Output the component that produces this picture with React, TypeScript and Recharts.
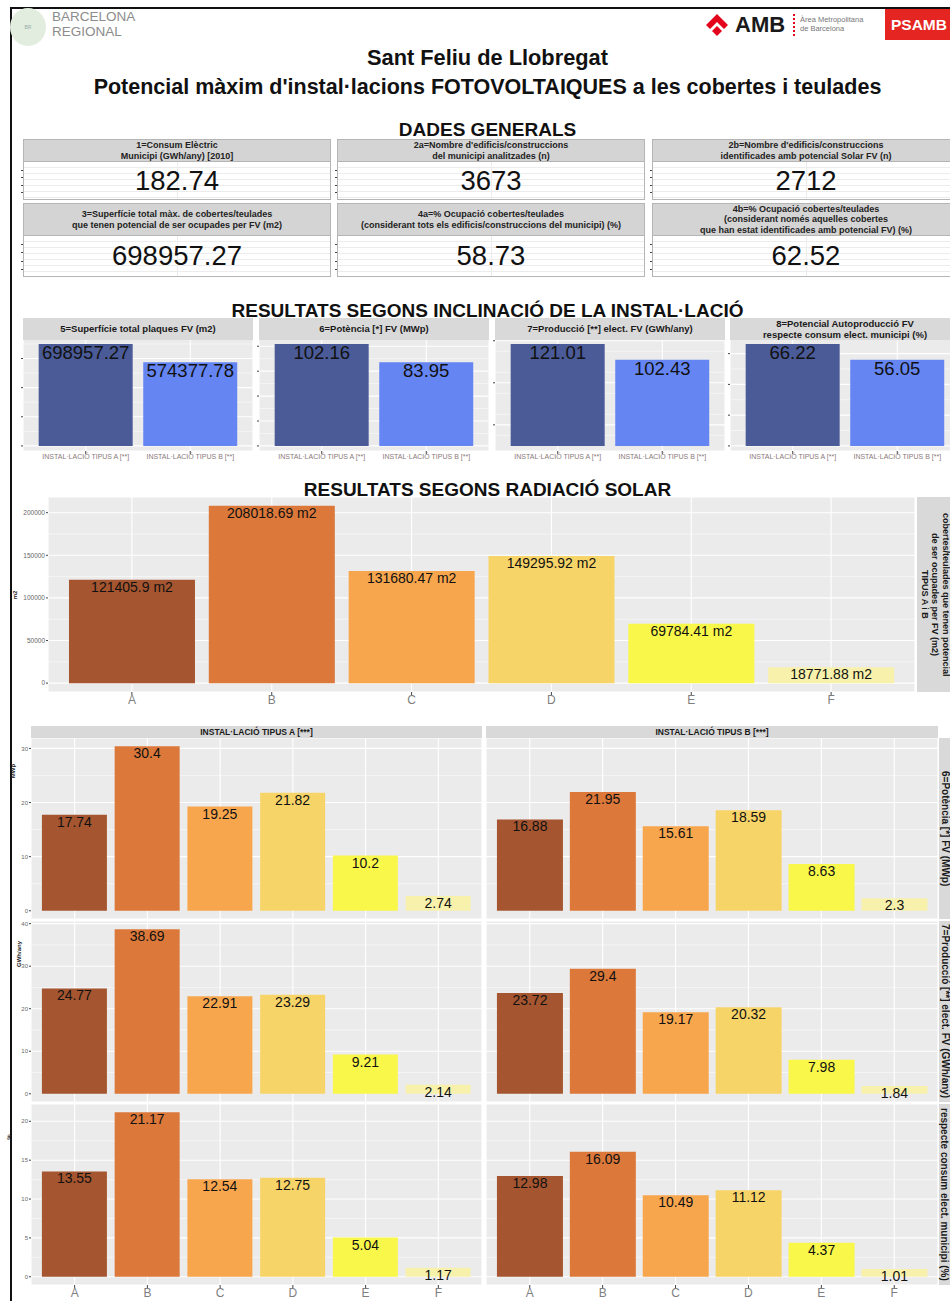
import React from 'react'
import { BarChart, Bar, XAxis, YAxis, CartesianGrid, Cell, LabelList, ReferenceLine } from 'recharts'

const FONT = '"Liberation Sans", Arial, Helvetica, sans-serif'

// DADES GENERALS
const generalTitles = [
  ['1=Consum Elèctric', 'Municipi (GWh/any) [2010]'],
  ["2a=Nombre d'edificis/construccions", 'del municipi analitzades (n)'],
  ["2b=Nombre d'edificis/construccions", 'identificades amb potencial Solar FV (n)'],
  ['3=Superfície total màx. de cobertes/teulades', 'que tenen potencial de ser ocupades per FV (m2)'],
  ['4a=% Ocupació cobertes/teulades', "(considerant tots els edificis/construccions del municipi) (%)"],
  ['4b=% Ocupació cobertes/teulades', '(considerant només aquelles cobertes', 'que han estat identificades amb potencial FV) (%)'],
]
const generalValues = ['182.74', '3673', '2712', '698957.27', '58.73', '62.52']

// RESULTATS SEGONS INCLINACIÓ
const inclCats = ['INSTAL·LACIÓ TIPUS A [**]', 'INSTAL·LACIÓ TIPUS B [**]']
const inclTitles = [
  ['5=Superfície total plaques FV (m2)'],
  ['6=Potència [*] FV (MWp)'],
  ['7=Producció [**] elect. FV (GWh/any)'],
  ['8=Potencial Autoproducció FV', 'respecte consum elect. municipi (%)'],
]
const inclSuperficie = [698957.27, 574377.78]
const inclPotencia = [102.16, 83.95]
const inclProduccio = [121.01, 102.43]
const inclAutoprod = [66.22, 56.05]
const inclTicks = [
  [0, 200000, 400000, 600000],
  [0, 25, 50, 75, 100],
  [0, 25, 50, 75, 100, 125],
  [0, 20, 40, 60],
]
const inclColors = ['#4a5b98', '#6586f2']

// RESULTATS SEGONS RADIACIÓ SOLAR
const radCats = ['A', 'B', 'C', 'D', 'E', 'F']
const radSuperficie = [121405.9, 208018.69, 131680.47, 149295.92, 69784.41, 18771.88]
const radTicks = [0, 50000, 100000, 150000, 200000]
const radColors = ['#a5552f', '#db783a', '#f7a64e', '#f7d468', '#f9f74a', '#f7f1ac']

// facetes per tipus d'instal·lació
const facetCols = ['INSTAL·LACIÓ TIPUS A [***]', 'INSTAL·LACIÓ TIPUS B [***]']
const facetRows = [
  ['6=Potència [*] FV (MWp)'],
  ['7=Producció [**] elect. FV (GWh/any)'],
  ['8=Potencial Autoproducció FV', 'respecte consum elect. municipi (%)'],
]
const facetAxisTitles = ['MWp', 'GWh/any', '%']
const potenciaA = [17.74, 30.4, 19.25, 21.82, 10.2, 2.74]
const potenciaB = [16.88, 21.95, 15.61, 18.59, 8.63, 2.3]
const produccioA = [24.77, 38.69, 22.91, 23.29, 9.21, 2.14]
const produccioB = [23.72, 29.4, 19.17, 20.32, 7.98, 1.84]
const autoprodA = [13.55, 21.17, 12.54, 12.75, 5.04, 1.17]
const autoprodB = [12.98, 16.09, 10.49, 11.12, 4.37, 1.01]
const potenciaTicks = [0, 10, 20, 30]
const produccioTicks = [0, 10, 20, 30, 40]
const autoprodTicks = [0, 5, 10, 15, 20]

type PanelProps = {
  x: number
  y: number
  w: number
  h: number
  cats: string[]
  values: number[]
  colors: string[]
  max: number
  ticks: number[]
  yW: number
  xH: number
  xFont: number
  xColor: string
  yFont: number
  labelFont: number
  suffix?: string
}

const NoTick = () => <g />

function Panel({ x, y, w, h, cats, values, colors, max, ticks, yW, xH, xFont, xColor, yFont, labelFont, suffix = '' }: PanelProps) {
  const data = cats.map((c, i) => ({ c, v: values[i] }))
  const unit = w / (cats.length + 0.2)
  const pad = unit * 0.1
  const step = ticks[1] - ticks[0]
  const minor = ticks.map(t => t + step / 2).filter(m => m < max * 1.05)
  return (
    <div style={{ position: 'absolute', left: x - yW, top: y }}>
      <BarChart width={w + yW} height={h + xH} data={data} margin={{ top: 0, right: 0, bottom: 0, left: 0 }} barCategoryGap="5%">
        <CartesianGrid fill="#ebebeb" fillOpacity={1} stroke="#ffffff" strokeWidth={1.1} />
        {minor.map(m => (
          <ReferenceLine key={m} y={m} stroke="#ffffff" strokeWidth={0.5} zIndex={-50} />
        ))}
        <XAxis
          dataKey="c"
          padding={{ left: pad, right: pad }}
          hide={xH === 0}
          height={xH}
          axisLine={false}
          tickLine={{ stroke: '#444' }}
          tickSize={3}
          tickMargin={0}
          interval={0}
          tick={{ fontSize: xFont, fill: xColor, fontFamily: FONT }}
        />
        <YAxis
          type="number"
          domain={[-max * 0.05, max * 1.05]}
          ticks={ticks}
          hide={yW === 0}
          width={yW}
          axisLine={false}
          tickSize={2}
          tickMargin={1}
          tickLine={{ stroke: '#444' }}
          tick={yFont > 0 ? { fontSize: yFont, fill: '#666', fontFamily: FONT } : NoTick}
          allowDataOverflow
        />
        <Bar dataKey="v" isAnimationActive={false}>
          {data.map((d, i) => (
            <Cell key={d.c} fill={colors[i]} />
          ))}
          <LabelList
            dataKey="v"
            position="insideTop"
            offset={2}
            fill="#111"
            fontSize={labelFont}
            fontFamily={FONT}
            formatter={(v: number) => `${v}${suffix}`}
          />
        </Bar>
      </BarChart>
    </div>
  )
}

function Strip({ x, y, w, h, lines, size }: { x: number; y: number; w: number; h: number; lines: string[]; size: number }) {
  return (
    <div
      style={{
        position: 'absolute', left: x, top: y, width: w, height: h, background: '#d9d9d9',
        display: 'flex', flexDirection: 'column', justifyContent: 'center', alignItems: 'center',
        fontSize: size, lineHeight: `${size + 2}px`, fontWeight: 'bold', color: '#1a1a1a', whiteSpace: 'nowrap',
      }}
    >
      {lines.map(l => <div key={l}>{l}</div>)}
    </div>
  )
}

function SideStrip({ x, y, w, h, lines, size, lh }: { x: number; y: number; w: number; h: number; lines: string[]; size: number; lh: number }) {
  return (
    <div
      style={{
        position: 'absolute', left: x, top: y, width: w, height: h, background: '#d9d9d9',
        display: 'flex', alignItems: 'center', justifyContent: 'center',
      }}
    >
      <div style={{ writingMode: 'vertical-rl', fontSize: size, lineHeight: `${lh}px`, fontWeight: 'bold', color: '#1a1a1a', textAlign: 'center', whiteSpace: 'nowrap' }}>
        {lines.map(l => <div key={l}>{l}</div>)}
      </div>
    </div>
  )
}

function Title({ y, text, size }: { y: number; text: string; size: number }) {
  return (
    <div style={{ position: 'absolute', left: 10, width: 955, top: y - size * 0.6, textAlign: 'center', fontSize: size, fontWeight: 'bold', color: '#111', whiteSpace: 'nowrap' }}>
      {text}
    </div>
  )
}

function Logos() {
  return (
    <>
      <div style={{ position: 'absolute', left: 10, top: 8, width: 36, height: 38, borderRadius: '50%', background: '#e2eddf', color: '#9aa', fontSize: 5, display: 'flex', alignItems: 'center', justifyContent: 'center' }}>BR</div>
      <div style={{ position: 'absolute', left: 52, top: 9, fontSize: 13.5, lineHeight: '15px', color: '#8c8c8c' }}>
        <div>BARCELONA</div>
        <div>REGIONAL</div>
      </div>
      <svg style={{ position: 'absolute', left: 700, top: 10 }} width={34} height={32}>
        <polygon points="6,15 17,4 28,15 24,19 17,12 10,19" fill="#e3051b" />
        <polygon points="17,16 22,21 17,26 12,21" fill="#e3051b" />
      </svg>
      <div style={{ position: 'absolute', left: 735, top: 12, fontSize: 22, fontWeight: 'bold', color: '#1a1a1a' }}>AMB</div>
      <div style={{ position: 'absolute', left: 793, top: 14, width: 0, height: 22, borderLeft: '2px dotted #e3051b' }} />
      <div style={{ position: 'absolute', left: 800, top: 15, fontSize: 7.5, lineHeight: '9px', color: '#777' }}>
        <div>Àrea Metropolitana</div>
        <div>de Barcelona</div>
      </div>
      <div style={{ position: 'absolute', left: 885, top: 9, width: 65, height: 31, background: '#e52521', color: '#fff', fontWeight: 'bold', fontSize: 15.5, lineHeight: '31px', paddingLeft: 6, boxSizing: 'border-box', whiteSpace: 'nowrap' }}>PSAMB</div>
    </>
  )
}

function GeneralBoxes() {
  const cols = [23, 337, 652]
  const rows = [
    { head: 139, headH: 23, val: 162, valH: 38 },
    { head: 203, headH: 33, val: 236, valH: 41 },
  ]
  return (
    <>
      {generalTitles.map((t, i) => {
        const c = cols[i % 3]
        const r = rows[Math.floor(i / 3)]
        return (
          <React.Fragment key={i}>
            <div
              style={{
                position: 'absolute', left: c, top: r.head, width: 308, height: r.headH, boxSizing: 'border-box',
                background: '#d4d4d4', border: '1px solid #b5b5b5', display: 'flex', flexDirection: 'column',
                justifyContent: 'center', alignItems: 'center', fontSize: 9, lineHeight: '10.5px', fontWeight: 'bold',
                color: '#222', whiteSpace: 'nowrap', overflow: 'hidden',
              }}
            >
              {t.map(l => <div key={l}>{l}</div>)}
            </div>
            <div
              style={{
                position: 'absolute', left: c, top: r.val, width: 308, height: r.valH, boxSizing: 'border-box',
                border: '1px solid #b5b5b5', borderTop: 'none',
                background: 'repeating-linear-gradient(to bottom, #ffffff 0px, #ffffff 5px, #ececec 5px, #ececec 6px)',
                display: 'flex', alignItems: 'center', justifyContent: 'center', fontSize: 27.5, color: '#111',
              }}
            >
              <div style={{ position: 'absolute', left: 153, top: 0, width: 1, height: '100%', background: '#ececec' }} />
              {[0.2, 0.4, 0.6, 0.8].map(f => (
                <div key={f} style={{ position: 'absolute', left: -3, top: r.valH * f, width: 2, height: 1, background: '#444' }} />
              ))}
              <span style={{ position: 'relative' }}>{generalValues[i]}</span>
            </div>
          </React.Fragment>
        )
      })}
    </>
  )
}

export default function App() {
  const inclValues = [inclSuperficie, inclPotencia, inclProduccio, inclAutoprod]
  const inclX = [23, 259, 495, 730]
  const facetData = [
    [potenciaA, potenciaB, potenciaTicks],
    [produccioA, produccioB, produccioTicks],
    [autoprodA, autoprodB, autoprodTicks],
  ] as [number[], number[], number[]][]
  const colX = [31, 486]
  const colW = [451, 452]
  const rowY = [738, 921, 1104]
  const rowH = 181

  return (
    <div style={{ position: 'absolute', left: 0, top: 0, width: 950, height: 1301, overflow: 'hidden', background: '#fff', fontFamily: FONT }}>
      <div style={{ position: 'absolute', left: 10, top: 7, width: 960, height: 2, background: '#111' }} />
      <div style={{ position: 'absolute', left: 10, top: 7, width: 2, height: 1300, background: '#111' }} />
      <Logos />

      <Title y={58} text="Sant Feliu de Llobregat" size={21.8} />
      <Title y={88} text="Potencial màxim d'instal·lacions FOTOVOLTAIQUES a les cobertes i teulades" size={21.5} />

      <Title y={130} text="DADES GENERALS" size={19} />
      <GeneralBoxes />

      <Title y={311} text="RESULTATS SEGONS INCLINACIÓ DE LA INSTAL·LACIÓ" size={19} />
      {inclValues.map((vals, i) => (
        <React.Fragment key={i}>
          <Panel
            x={inclX[i]} y={339} w={230} h={112}
            cats={inclCats} values={vals} colors={inclColors}
            max={Math.max(...vals)} ticks={inclTicks[i]}
            yW={4} xH={14} xFont={7} xColor="#8a7a7a" yFont={0} labelFont={18.5}
          />
          <Strip x={inclX[i]} y={318} w={230} h={22} lines={inclTitles[i]} size={9.5} />
        </React.Fragment>
      ))}

      <Title y={490} text="RESULTATS SEGONS RADIACIÓ SOLAR" size={19} />
      <Panel
        x={48} y={497} w={867} h={195}
        cats={radCats} values={radSuperficie} colors={radColors}
        max={Math.max(...radSuperficie)} ticks={radTicks}
        yW={32} xH={16} xFont={12} xColor="#7f7f7f" yFont={6.5} labelFont={14} suffix=" m2"
      />
      <div style={{ position: 'absolute', left: 11, top: 592, fontSize: 6, fontWeight: 'bold', transform: 'rotate(-90deg)', color: '#222' }}>m2</div>
      <SideStrip x={917} y={497} w={36} h={195}
        lines={['cobertes/teulades que tenen potencial', 'de ser ocupades per FV (m2)', 'TIPUS A i B']} size={9} lh={10.5} />

      {facetCols.map((c, j) => (
        <Strip key={c} x={colX[j]} y={726} w={colW[j]} h={12} lines={[c]} size={8.5} />
      ))}
      {facetData.map(([a, b, ticks], r) => {
        const max = Math.max(...a, ...b)
        const last = r === facetData.length - 1
        return (
          <React.Fragment key={r}>
            {[a, b].map((vals, j) => (
              <Panel
                key={j}
                x={colX[j]} y={rowY[r]} w={colW[j]} h={rowH}
                cats={radCats} values={vals} colors={radColors}
                max={max} ticks={ticks}
                yW={j === 0 ? 13 : 0} xH={last ? 16 : 0} xFont={12} xColor="#7f7f7f" yFont={6} labelFont={14}
              />
            ))}
            <SideStrip x={939} y={rowY[r]} w={r === 2 ? 22 : 12} h={rowH} lines={facetRows[r]} size={10} lh={11.5} />
            <div style={{ position: 'absolute', left: 6, top: rowY[r] + 30, fontSize: 6, fontWeight: 'bold', transform: 'rotate(-90deg)', color: '#222' }}>
              {facetAxisTitles[r]}
            </div>
          </React.Fragment>
        )
      })}
    </div>
  )
}
